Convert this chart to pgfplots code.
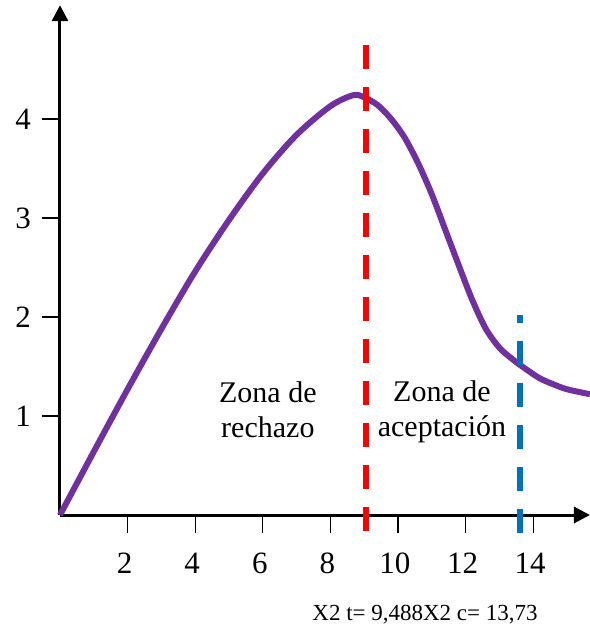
\documentclass[border=0pt]{standalone}
\usepackage{fontspec}
\setmainfont{Liberation Serif}
\usepackage{pgfplots}
\pgfplotsset{compat=1.18}
\usetikzlibrary{arrows.meta}
\definecolor{curvepurple}{HTML}{7030A0}
\definecolor{lineblue}{HTML}{0070C0}
\definecolor{linered}{HTML}{FF0000}

\begin{document}
\begin{tikzpicture}
\useasboundingbox (-30pt,-57pt) rectangle (265pt,257.5pt);
\begin{axis}[
    x=16.9pt, y=49.5pt,
    xmin=0, xmax=15.68,
    ymin=0, ymax=5.15,
    axis lines=left,
    axis line style={line width=1.5pt, -{Triangle[length=8pt,width=8pt]}},
    xtick={2,4,...,14},
    ytick={1,2,3,4},
    tick align=outside,
    major tick length=9pt,
    tick style={black, line width=0.6pt},
    /pgf/number format/assume math mode=true,
    ticklabel style={font=\fontsize{15.5}{18}\selectfont},
    xticklabel style={yshift=-6.5pt, xshift=-1.5pt},
    yticklabel style={xshift=-2pt},
    clip=false,
]
% curva
\addplot[curvepurple, line width=3pt, smooth] coordinates {
    (0,0) (1,0.64) (2,1.27) (3,1.88) (4,2.46) (5,2.98) (6,3.45)
    (7,3.84) (8,4.13) (8.67,4.24) (9.0,4.22) (9.4,4.14) (9.8,4.00)
    (10.2,3.81) (10.6,3.55) (11.0,3.24) (11.4,2.88) (11.8,2.52)
    (12.2,2.17) (12.6,1.88) (13.0,1.69) (13.4,1.57) (13.8,1.47)
    (14.2,1.38) (14.6,1.32) (15.0,1.27) (15.68,1.22)
};
% valores criticos
\addplot[linered, line width=3pt, dash pattern=on 12pt off 9pt] coordinates {(9.05,4.75) (9.05,-0.18)};
\addplot[lineblue, line width=3pt, dash pattern=on 12pt off 9pt] coordinates {(13.6,-0.18) (13.6,2.02)};

\node[align=center, font=\fontsize{15}{17.5}\selectfont] at (axis cs:6.15,1.06) {Zona de\\rechazo};
\node[align=center, font=\fontsize{15}{17.5}\selectfont] at (axis cs:11.3,1.04) {Zona de\\aceptación};
\node[font=\fontsize{11.5}{13}\selectfont] at (axis cs:10.8,-1.01) {X2 t= 9,488X2 c= 13,73};
\end{axis}
\end{tikzpicture}
\end{document}
